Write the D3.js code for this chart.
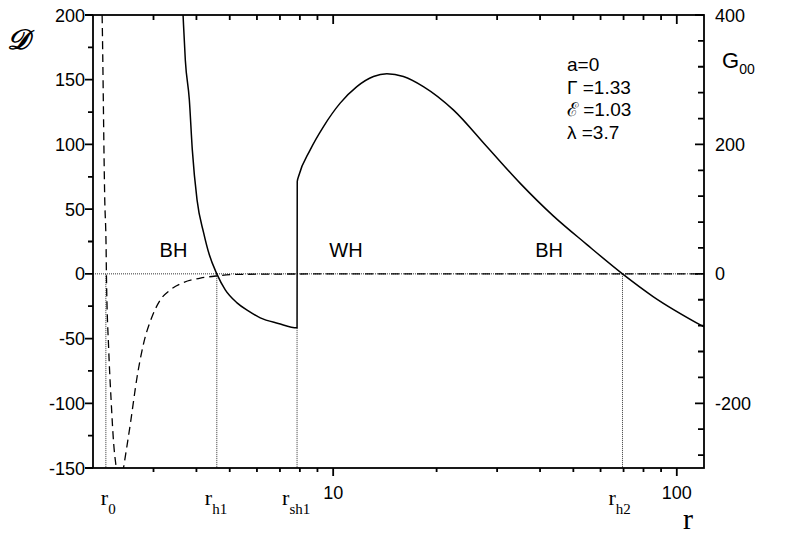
<!DOCTYPE html>
<html>
<head>
<meta charset="utf-8">
<script src="https://cdn.jsdelivr.net/npm/d3@7"></script>
<style>
  body { margin: 0; background: #fff; }
  svg text { font-family: "Liberation Sans", Arial, sans-serif; fill: #000; }
  .serif { font-family: "Liberation Serif", "Times New Roman", serif; }
</style>
</head>
<body>
<div id="chart"></div>
<script>
// solid curve D(r), left axis
var dR   = [3.6, 3.657, 3.713, 3.814, 3.891, 4.016, 4.198, 4.361, 4.585, 4.853, 5.25, 5.662, 6.135, 6.921, 7.85,
            7.86, 7.928, 8.573, 9.372, 10.48, 11.72, 13.1, 14.33, 16.01, 18.3, 22.37, 27.98, 34.97, 43.7, 54.65, 69.5, 85.3, 120];
var dVal = [240, 200, 165, 134.5, 95.8, 57.2, 31.7, 14.7, 0, -12.4, -22.4, -28.6, -34, -38.3, -41.7,
            71.3, 75.2, 95.8, 113.8, 131.9, 144.7, 152.5, 154.6, 152.5, 144.7, 126.7, 98.4, 70.1, 44.8, 22.8, 0, -17.5, -41];
// dashed curve G00(r), right axis
var gR   = [2.11, 2.126, 2.164, 2.184, 2.188, 2.222, 2.258, 2.297, 2.335, 2.395, 2.457, 2.57, 2.688, 2.809, 2.972,
            3.142, 3.36, 3.671, 4.107, 4.591, 5.25, 7, 10, 20, 120];
var gVal = [480, 400, 114, 37, 0, -117, -195, -262, -298, -335, -298, -231, -159, -107, -66,
            -40, -24.7, -13.4, -6.6, -3.1, -0.8, -0.3, -0.1, 0, 0];

var horizons = [
  {sub: "0",   r: 2.18,  top: 0,     dx: -5},
  {sub: "h1",  r: 4.585, top: 0,     dx: -12},
  {sub: "sh1", r: 7.85,  top: -41.7, dx: -15},
  {sub: "h2",  r: 69.5,  top: 0,     dx: -14}
];
var regions = [{name: "BH", r: 3.43}, {name: "WH", r: 10.9}, {name: "BH", r: 42.5}];
var params = ["a=0", "Γ =1.33", "ℰ =1.03", "λ =3.7"];

var leftMajor = d3.range(-150, 201, 50), leftMinor = d3.range(-125, 201, 50);
var rightMajor = [-200, 0, 200, 400], rightMinor = [-280, -240, -160, -120, -80, -40, 40, 80, 120, 160, 240, 280, 320, 360];
var xMajor = [10, 100], xMinor = [3, 4, 5, 6, 7, 8, 9, 20, 30, 40, 50, 60, 70, 80, 90];

var margin = {top: 15, right: 87, bottom: 66, left: 93},
    width = 791 - margin.left - margin.right,
    height = 534 - margin.top - margin.bottom;

var svg = d3.select("#chart").append("svg")
    .attr("width", 791).attr("height", 534);
var g = svg.append("g").attr("transform", "translate(" + margin.left + "," + margin.top + ")");

var x = d3.scaleLog().domain([2, 120]).range([0, width]);
var y = d3.scaleLinear().domain([-150, 200]).range([height, 0]);
var y2 = d3.scaleLinear().domain([-300, 400]).range([height, 0]);

g.append("clipPath").attr("id", "clip").append("rect").attr("width", width).attr("height", height);

// dotted guide lines
g.append("line").attr("x1", 0).attr("x2", width).attr("y1", y(0)).attr("y2", y(0))
    .attr("stroke", "#000").attr("stroke-width", 0.8).attr("stroke-dasharray", "1,1");
g.selectAll(".vline").data(horizons).enter().append("line")
    .attr("x1", function(d) { return x(d.r); }).attr("x2", function(d) { return x(d.r); })
    .attr("y1", function(d) { return y(d.top); }).attr("y2", height)
    .attr("stroke", "#000").attr("stroke-width", 0.8).attr("stroke-dasharray", "1,1");

var plot = g.append("g").attr("clip-path", "url(#clip)");
var lineD = d3.line().x(function(d, i) { return x(dR[i]); }).y(function(d) { return y(d); }).curve(d3.curveMonotoneX);
var lineG = d3.line().x(function(d, i) { return x(gR[i]); }).y(function(d) { return y2(d); }).curve(d3.curveMonotoneX);

plot.append("path").datum(gVal).attr("d", lineG)
    .attr("fill", "none").attr("stroke", "#000").attr("stroke-width", 1.3).attr("stroke-dasharray", "8,5");
plot.append("path").datum(dVal).attr("d", lineD)
    .attr("fill", "none").attr("stroke", "#000").attr("stroke-width", 1.5);

// tick marks, one path for all sides
function vTickPath(vals, y0, len) {
  return vals.map(function(d) { return "M" + x(d) + "," + y0 + "v" + len; }).join("");
}
function hTickPath(vals, sc, x0, len) {
  return vals.map(function(d) { return "M" + x0 + "," + sc(d) + "h" + len; }).join("");
}
var tickD = vTickPath(xMinor, height, 4) + vTickPath(xMajor, height, 8) +
            vTickPath(xMinor, 0, 5) + vTickPath(xMajor, 0, 9) +
            hTickPath(leftMinor, y, 0, -5) + hTickPath(leftMajor, y, 0, -8) +
            hTickPath(rightMinor, y2, width, -6) + hTickPath(rightMajor, y2, width, -9);
g.append("path").attr("d", tickD).attr("fill", "none").attr("stroke", "#000").attr("stroke-width", 1.8);

// tick labels
var fs = 18;
g.selectAll(".xl").data(xMajor).enter().append("text")
    .attr("x", function(d) { return x(d); }).attr("y", height + 31)
    .attr("text-anchor", "middle").attr("font-size", fs).text(function(d) { return d; });
g.selectAll(".yl").data(leftMajor).enter().append("text")
    .attr("x", -8).attr("y", function(d) { return y(d) + 6.5; })
    .attr("text-anchor", "end").attr("font-size", fs).text(function(d) { return d; });
g.selectAll(".y2l").data(rightMajor).enter().append("text")
    .attr("x", width + 11).attr("y", function(d) { return y2(d) + 6.5; })
    .attr("font-size", fs).text(function(d) { return d; });

g.append("rect").attr("width", width).attr("height", height)
    .attr("fill", "none").attr("stroke", "#000").attr("stroke-width", 1.8);

// region labels
g.selectAll(".region").data(regions).enter().append("text")
    .attr("x", function(d) { return x(d.r); }).attr("y", y(19) + 7.5)
    .attr("text-anchor", "middle").attr("font-size", 20).text(function(d) { return d.name; });

// horizon labels
var hl = g.selectAll(".hl").data(horizons).enter().append("text")
    .attr("class", "serif")
    .attr("x", function(d) { return x(d.r) + d.dx; }).attr("y", height + 37);
hl.append("tspan").attr("font-size", 22).text("r");
hl.append("tspan").attr("font-size", 15).attr("dy", 9).text(function(d) { return d.sub; });

// axis titles
svg.append("text").attr("class", "serif").attr("x", 683).attr("y", 529).attr("font-size", 30).text("r");
svg.append("text").attr("x", 7).attr("y", 49).attr("font-size", 28).attr("font-style", "italic")
    .attr("font-weight", "bold").attr("font-family", "DejaVu Serif, serif").text("𝒟");
var gt = svg.append("text").attr("x", 722).attr("y", 68).attr("font-size", 22);
gt.append("tspan").text("G");
gt.append("tspan").attr("font-size", 14).attr("dy", 6).text("00");

// parameters
svg.selectAll(".param").data(params).enter().append("text")
    .attr("x", 567).attr("y", function(d, i) { return 71 + i * 22.7; })
    .attr("font-size", 19)
    .text(function(d) { return d; });
</script>
</body>
</html>
